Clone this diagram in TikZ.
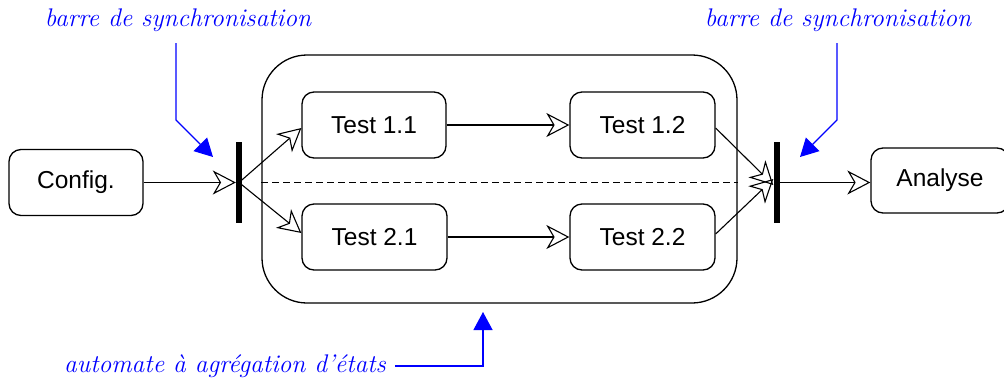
\documentclass[tikz,border=0pt]{standalone}
\usepackage{fontspec}
\setmainfont{Latin Modern Roman}
\newfontfamily\boxfont{Liberation Sans}
\usetikzlibrary{arrows.meta}
\definecolor{noteblue}{RGB}{0,0,255}
\tikzset{
  state/.style={draw, line width=1.3pt, rounded corners=12pt, minimum height=66pt,
    inner sep=0pt, font=\boxfont\fontsize{24.5}{28}\selectfont},
  syncbar/.style={fill=black, draw=none, minimum width=6pt, minimum height=81pt, inner sep=0pt},
  flow/.style={line width=1.1pt, -{Stealth[open, length=23pt, width=24pt, inset=7pt, line width=1.1pt]}},
  note/.style={text=noteblue, font=\itshape\fontsize{25.5}{30}\selectfont, inner sep=0pt},
  pointer/.style={draw=noteblue, line width=1.2pt, -{Triangle[length=18pt, width=19pt]}, noteblue},
}
\begin{document}
\begin{tikzpicture}[x=1pt, y=-1pt]
  \useasboundingbox (0,0) rectangle (1004,381);
  \clip (0,0) rectangle (1004,381);

  % composite state holding the two concurrent regions
  \node[draw, line width=1.3pt, rounded corners=45pt, minimum width=475pt, minimum height=248pt,
        inner sep=0pt] (comp) at (499.5,179) {};

  % states
  \node[state, minimum width=134pt] (config) at (76,182.5) {Config.};
  \node[state, minimum width=144pt] (t11) at (374,125) {Test 1.1};
  \node[state, minimum width=145pt] (t12) at (642.5,125) {Test 1.2};
  \node[state, minimum width=145pt] (t21) at (374.5,237) {Test 2.1};
  \node[state, minimum width=145pt] (t22) at (642.5,237) {Test 2.2};
  \node[state, minimum width=138pt, minimum height=65pt] (analyse) at (940,180.5) {Analyse};

  % fork and join bars
  \node[syncbar] (fork) at (239,182.5) {};
  \node[syncbar] (join) at (776.5,182.5) {};

  % separator between the concurrent regions
  \draw[line width=1.1pt, dash pattern=on 7pt off 4pt] (comp.west |- fork) -- (comp.east |- fork);

  % transitions
  \draw[flow] (config.east) -- (fork.west);
  \draw[flow] (fork.center) -- ([yshift=-3pt]t11.west);
  \draw[flow] (fork.center) -- ([yshift=4pt]t21.west);
  \draw[flow] (t11.east) -- (t12.west |- t11.east);
  \draw[flow] (t21.east) -- (t22.west |- t21.east);
  \draw[flow] ([yshift=-3pt]t12.east) -- ([yshift=-2.5pt]join.west);
  \draw[flow] ([yshift=3pt]t22.east) -- ([yshift=3.5pt]join.west);
  \draw[flow] (join.east) -- (analyse.west |- join.east);

  % annotations
  \node[note] (lnote) at (178,20) {barre de synchronisation};
  \node[note] (rnote) at (838,20) {barre de synchronisation};
  \node[note, anchor=east] (bnote) at (386,366) {automate à agrégation d'états};

  \coordinate (lstart) at (176,43);
  \coordinate (lbend) at (176,120);
  \coordinate (ltip) at (213,157);
  \coordinate (rstart) at (837,43);
  \coordinate (rbend) at (837,120);
  \coordinate (rtip) at (800,157);
  \coordinate (bstart) at (395,366);
  \coordinate (bcorner) at (483,366);
  \coordinate (btip) at (483,312);

  \draw[pointer] (lstart) -- (lbend) -- (ltip);
  \draw[pointer] (rstart) -- (rbend) -- (rtip);
  \draw[pointer] (bstart) -- (bcorner) -- (btip);
\end{tikzpicture}
\end{document}
